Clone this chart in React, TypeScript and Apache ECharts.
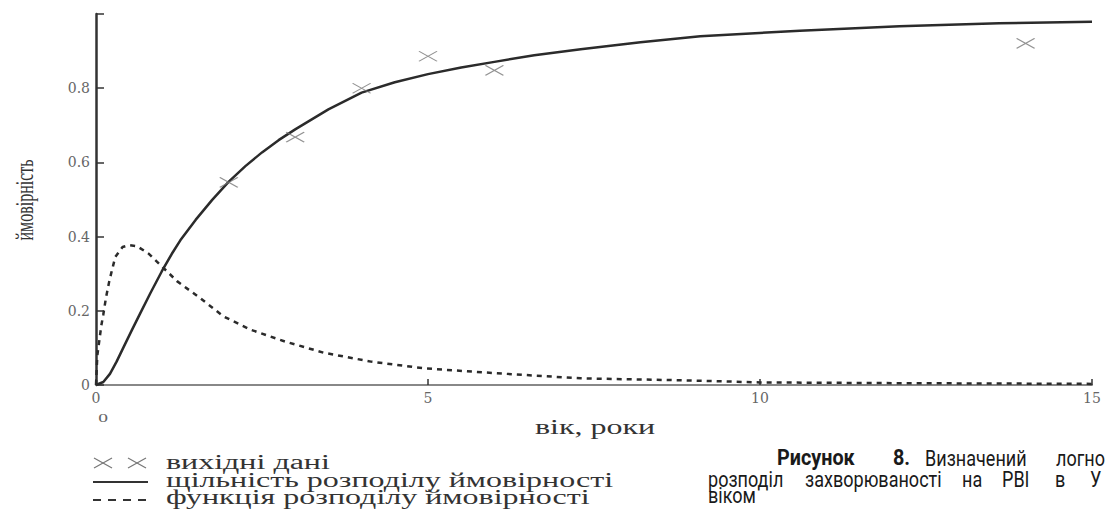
import React, { useEffect, useRef } from 'react';
import * as echarts from 'echarts';

// observed data (crosses)
const crossAges = [2, 3, 4, 5, 6, 14];
const crossValues = [0.546, 0.668, 0.8, 0.886, 0.848, 0.921];

// solid curve
const solidAges = [0, 0.11, 0.21, 0.31, 0.41, 0.54, 0.66, 0.82, 0.99, 1.14, 1.27, 1.5, 1.75, 2, 2.25, 2.5, 2.75, 3, 3.5, 4, 4.5, 5, 5.5, 6, 6.6, 7.3, 8.2, 9.1, 10.6, 12.1, 13.6, 15];
const solidValues = [0, 0.008, 0.03, 0.063, 0.1, 0.148, 0.191, 0.248, 0.306, 0.353, 0.39, 0.445, 0.499, 0.548, 0.59, 0.627, 0.66, 0.689, 0.743, 0.788, 0.816, 0.838, 0.856, 0.871, 0.889, 0.905, 0.924, 0.94, 0.955, 0.967, 0.975, 0.979];

// dashed curve
const dashedAges = [0, 0.01, 0.02, 0.05, 0.08, 0.11, 0.15, 0.2, 0.29, 0.4, 0.5, 0.62, 0.8, 0.95, 1.22, 1.57, 1.92, 2.33, 2.85, 3.43, 4.14, 4.94, 6, 7.3, 9, 10, 12, 15];
const dashedValues = [0, 0.04, 0.08, 0.12, 0.16, 0.19, 0.235, 0.28, 0.345, 0.372, 0.377, 0.374, 0.353, 0.327, 0.28, 0.234, 0.185, 0.149, 0.117, 0.087, 0.063, 0.045, 0.032, 0.018, 0.012, 0.007, 0.005, 0.003];

const seriesNames = ['вихідні дані', 'щільність розподілу ймовірності', 'функція розподілу ймовірності'];
const xTitle = 'вік, роки';
const yTitle = 'ймовірність';
const captionLine1 = [
  { t: 'Рисунок', x: 777, bold: true },
  { t: '8.', x: 893, bold: true },
  { t: 'Визначений', x: 925, bold: false },
  { t: 'логно', x: 1056, bold: false },
];
const captionLine2 = [
  { t: 'розподіл', x: 708 },
  { t: 'захворюваності', x: 805 },
  { t: 'на', x: 962 },
  { t: 'РВІ', x: 1002 },
  { t: 'в', x: 1055 },
  { t: 'У', x: 1090 },
];
const captionLine3 = [{ t: 'віком', x: 708 }];

const SERIF = '"Liberation Serif", "Times New Roman", serif';
const STRETCH = 1.6;

export default function App() {
  const ref = useRef<HTMLDivElement>(null);
  useEffect(() => {
    document.body.style.margin = '0';
    const chart = echarts.init(ref.current!, null, { renderer: 'svg' });
    const capFont = (bold: boolean) => `${bold ? 'bold ' : ''}22px Roboto, sans-serif`;
    const capTexts: any[] = [];
    const addLine = (arr: any[], y: number) => {
      arr.forEach((w) => {
        capTexts.push({
          type: 'text', x: w.x, y, scaleX: w.bold ? 0.9 : 0.82,
          style: { text: w.t, font: capFont(!!w.bold), fill: '#1a1a1a', verticalAlign: 'middle', align: 'left' },
        });
      });
    };
    addLine(captionLine1, 458);
    addLine(captionLine2, 479);
    addLine(captionLine3, 495);

    const legendTextStyle = (text: string) => ({ text, font: `20px ${SERIF}`, fill: '#333', verticalAlign: 'middle', align: 'left' });

    chart.setOption({
      animation: false,
      backgroundColor: '#fff',
      grid: { left: 96, right: 16, top: 14, bottom: 124, containLabel: false },
      xAxis: {
        type: 'value', min: 0, max: 15, interval: 5,
        axisLine: { show: true, lineStyle: { color: '#888', width: 2 } },
        axisTick: { show: true, inside: true, length: 6, lineStyle: { color: '#333', width: 1.5 } },
        axisLabel: { color: '#666', fontFamily: 'DejaVu Serif', fontSize: 14, margin: 6 },
        splitLine: { show: false },
      },
      yAxis: {
        type: 'value', min: 0, max: 1, interval: 0.2,
        axisLine: { show: true, lineStyle: { color: '#333', width: 2.5 } },
        axisTick: { show: true, inside: true, length: 8, lineStyle: { color: '#333', width: 1.5 } },
        axisLabel: { color: '#666', fontFamily: 'DejaVu Serif', fontSize: 14, margin: 6, formatter: (v: number) => (v >= 1 ? '' : String(Math.round(v * 10) / 10)) },
        splitLine: { show: false },
      },
      series: [
        {
          name: seriesNames[1], type: 'line', data: solidAges.map((a, i) => [a, solidValues[i]]),
          showSymbol: false, smooth: false,
          lineStyle: { color: '#2b2b2b', width: 2.5 }, z: 3,
        },
        {
          name: seriesNames[2], type: 'line', data: dashedAges.map((a, i) => [a, dashedValues[i]]),
          showSymbol: false, smooth: false,
          lineStyle: { color: '#2b2b2b', width: 2.5, type: [5, 5] }, z: 3,
        },
        {
          name: seriesNames[0], type: 'scatter', data: crossAges.map((a, i) => [a, crossValues[i]]),
          symbol: 'path://M0,0L18,10M18,0L0,10', symbolSize: [18, 10],
          itemStyle: { color: 'rgba(0,0,0,0)', borderColor: '#777', borderWidth: 1.2 }, z: 4,
        },
      ],
      graphic: [
        { type: 'text', x: 25, y: 200, rotation: Math.PI / 2, scaleY: 1.6, style: { text: yTitle, font: `16px ${SERIF}`, fill: '#333', align: 'center', verticalAlign: 'middle' } },
        { type: 'text', x: 535, y: 427, scaleX: STRETCH, style: { text: xTitle, font: `20px ${SERIF}`, fill: '#333', align: 'left', verticalAlign: 'middle' } },
        { type: 'text', x: 103, y: 418, scaleX: 1.5, style: { text: '0', font: `13px ${SERIF}`, fill: '#666', align: 'center', verticalAlign: 'middle' } },
        // legend markers
        { type: 'line', shape: { x1: 94, y1: 458, x2: 112, y2: 468 }, style: { stroke: '#777', lineWidth: 1.2 } },
        { type: 'line', shape: { x1: 94, y1: 468, x2: 112, y2: 458 }, style: { stroke: '#777', lineWidth: 1.2 } },
        { type: 'line', shape: { x1: 128, y1: 458, x2: 146, y2: 468 }, style: { stroke: '#777', lineWidth: 1.2 } },
        { type: 'line', shape: { x1: 128, y1: 468, x2: 146, y2: 458 }, style: { stroke: '#777', lineWidth: 1.2 } },
        { type: 'line', shape: { x1: 93, y1: 482, x2: 148, y2: 482 }, style: { stroke: '#333', lineWidth: 2 } },
        { type: 'line', shape: { x1: 93, y1: 500, x2: 148, y2: 500 }, style: { stroke: '#333', lineWidth: 2, lineDash: [8, 7] } },
        { type: 'text', x: 166, y: 462, scaleX: STRETCH, style: legendTextStyle(seriesNames[0]) },
        { type: 'text', x: 166, y: 480, scaleX: STRETCH, style: legendTextStyle(seriesNames[1]) },
        { type: 'text', x: 166, y: 497, scaleX: STRETCH, style: legendTextStyle(seriesNames[2]) },
        ...capTexts,
      ],
    });
    return () => chart.dispose();
  }, []);
  return <div ref={ref} style={{ position: 'absolute', left: 0, top: 0, width: 1108, height: 509 }} />;
}
